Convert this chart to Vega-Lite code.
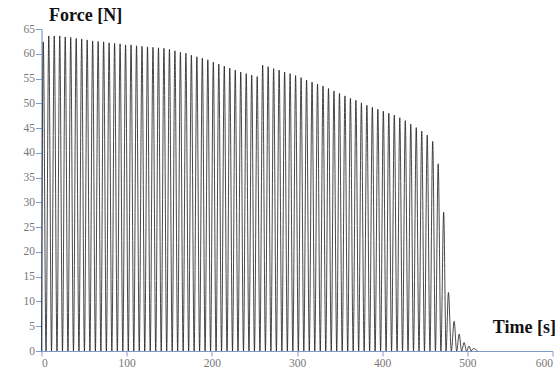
{
  "$schema": "https://vega.github.io/schema/vega-lite/v6.json",
  "width": 511,
  "height": 322,
  "autosize": {"type": "none"},
  "padding": {"left": 41.5, "top": 29, "right": 7.5, "bottom": 20},
  "background": "white",
  "config": {"view": {"stroke": null}},
  "data": {"values": [
    {"t": 0, "f": 0},
    {"t": 2.1, "f": 62.4}, {"t": 5.32, "f": 0},
    {"t": 8.54, "f": 63.6}, {"t": 11.76, "f": 0},
    {"t": 14.98, "f": 63.6}, {"t": 18.2, "f": 0},
    {"t": 21.42, "f": 63.6}, {"t": 24.64, "f": 0},
    {"t": 27.86, "f": 63.4}, {"t": 31.08, "f": 0},
    {"t": 34.3, "f": 63.3}, {"t": 37.52, "f": 0},
    {"t": 40.74, "f": 63.1}, {"t": 43.96, "f": 0},
    {"t": 47.18, "f": 63.0}, {"t": 50.4, "f": 0},
    {"t": 53.62, "f": 62.8}, {"t": 56.84, "f": 0},
    {"t": 60.06, "f": 62.6}, {"t": 63.28, "f": 0},
    {"t": 66.5, "f": 62.5}, {"t": 69.72, "f": 0},
    {"t": 72.94, "f": 62.4}, {"t": 76.16, "f": 0},
    {"t": 79.38, "f": 62.2}, {"t": 82.6, "f": 0},
    {"t": 85.82, "f": 62.1}, {"t": 89.04, "f": 0},
    {"t": 92.26, "f": 62.0}, {"t": 95.48, "f": 0},
    {"t": 98.7, "f": 61.8}, {"t": 101.92, "f": 0},
    {"t": 105.14, "f": 61.8}, {"t": 108.36, "f": 0},
    {"t": 111.58, "f": 61.6}, {"t": 114.8, "f": 0},
    {"t": 118.02, "f": 61.5}, {"t": 121.24, "f": 0},
    {"t": 124.46, "f": 61.4}, {"t": 127.68, "f": 0},
    {"t": 130.9, "f": 61.3}, {"t": 134.12, "f": 0},
    {"t": 137.34, "f": 61.2}, {"t": 140.56, "f": 0},
    {"t": 143.78, "f": 61.1}, {"t": 147.0, "f": 0},
    {"t": 150.22, "f": 60.9}, {"t": 153.44, "f": 0},
    {"t": 156.66, "f": 60.6}, {"t": 159.88, "f": 0},
    {"t": 163.1, "f": 60.3}, {"t": 166.32, "f": 0},
    {"t": 169.54, "f": 60.1}, {"t": 172.76, "f": 0},
    {"t": 175.98, "f": 59.7}, {"t": 179.2, "f": 0},
    {"t": 182.42, "f": 59.4}, {"t": 185.64, "f": 0},
    {"t": 188.86, "f": 59.1}, {"t": 192.08, "f": 0},
    {"t": 195.3, "f": 58.8}, {"t": 198.52, "f": 0},
    {"t": 201.74, "f": 58.3}, {"t": 204.96, "f": 0},
    {"t": 208.18, "f": 57.9}, {"t": 211.4, "f": 0},
    {"t": 214.62, "f": 57.5}, {"t": 217.84, "f": 0},
    {"t": 221.06, "f": 57.1}, {"t": 224.28, "f": 0},
    {"t": 227.5, "f": 56.7}, {"t": 230.72, "f": 0},
    {"t": 233.94, "f": 56.3}, {"t": 237.16, "f": 0},
    {"t": 240.38, "f": 56.0}, {"t": 243.6, "f": 0},
    {"t": 246.82, "f": 55.7}, {"t": 250.04, "f": 0},
    {"t": 253.26, "f": 55.4}, {"t": 256.48, "f": 0},
    {"t": 259.7, "f": 57.7}, {"t": 262.92, "f": 0},
    {"t": 266.14, "f": 57.4}, {"t": 269.36, "f": 0},
    {"t": 272.58, "f": 57.0}, {"t": 275.8, "f": 0},
    {"t": 279.02, "f": 56.7}, {"t": 282.24, "f": 0},
    {"t": 285.46, "f": 56.3}, {"t": 288.68, "f": 0},
    {"t": 291.9, "f": 56.0}, {"t": 295.12, "f": 0},
    {"t": 298.34, "f": 55.6}, {"t": 301.56, "f": 0},
    {"t": 304.78, "f": 55.2}, {"t": 308.0, "f": 0},
    {"t": 311.22, "f": 54.7}, {"t": 314.44, "f": 0},
    {"t": 317.66, "f": 54.3}, {"t": 320.88, "f": 0},
    {"t": 324.1, "f": 53.9}, {"t": 327.32, "f": 0},
    {"t": 330.54, "f": 53.5}, {"t": 333.76, "f": 0},
    {"t": 336.98, "f": 53.0}, {"t": 340.2, "f": 0},
    {"t": 343.42, "f": 52.5}, {"t": 346.64, "f": 0},
    {"t": 349.86, "f": 52.0}, {"t": 353.08, "f": 0},
    {"t": 356.3, "f": 51.5}, {"t": 359.52, "f": 0},
    {"t": 362.74, "f": 51.0}, {"t": 365.96, "f": 0},
    {"t": 369.18, "f": 50.6}, {"t": 372.4, "f": 0},
    {"t": 375.62, "f": 50.1}, {"t": 378.84, "f": 0},
    {"t": 382.06, "f": 49.6}, {"t": 385.28, "f": 0},
    {"t": 388.5, "f": 49.2}, {"t": 391.72, "f": 0},
    {"t": 394.94, "f": 48.8}, {"t": 398.16, "f": 0},
    {"t": 401.38, "f": 48.4}, {"t": 404.6, "f": 0},
    {"t": 407.82, "f": 48.0}, {"t": 411.04, "f": 0},
    {"t": 414.26, "f": 47.6}, {"t": 417.48, "f": 0},
    {"t": 420.7, "f": 47.1}, {"t": 423.92, "f": 0},
    {"t": 427.14, "f": 46.5}, {"t": 430.36, "f": 0},
    {"t": 433.58, "f": 45.8}, {"t": 436.8, "f": 0},
    {"t": 440.02, "f": 45.1}, {"t": 443.24, "f": 0},
    {"t": 446.46, "f": 44.4}, {"t": 449.68, "f": 0},
    {"t": 452.9, "f": 43.6}, {"t": 456.12, "f": 0},
    {"t": 459.34, "f": 42.3}, {"t": 462.56, "f": 0},
    {"t": 465.78, "f": 37.8}, {"t": 469.0, "f": 0},
    {"t": 472.22, "f": 28.0}, {"t": 475.0, "f": 0},
    {"t": 477.8, "f": 11.8}, {"t": 481.2, "f": 0},
    {"t": 484.5, "f": 6.0}, {"t": 487.5, "f": 0},
    {"t": 490.4, "f": 3.4}, {"t": 493.3, "f": 0},
    {"t": 496.2, "f": 1.7}, {"t": 499.1, "f": 0},
    {"t": 502.0, "f": 1.0}, {"t": 504.5, "f": 0},
    {"t": 507.0, "f": 0.5}, {"t": 512.0, "f": 0}
  ]},
  "mark": {"type": "line", "interpolate": "monotone", "color": "#1a1a1a", "strokeWidth": 0.8},
  "encoding": {
    "x": {
      "field": "t", "type": "quantitative",
      "scale": {"domain": [0, 600], "nice": false, "zero": false},
      "axis": {
        "values": [0, 100, 200, 300, 400, 500, 600],
        "grid": false,
        "domainColor": "#7f9bcc", "tickColor": "#7f9bcc", "tickSize": 5, "domainWidth": 1.2,
        "labelFont": "Liberation Serif", "labelFontSize": 11.5, "labelColor": "#777777", "labelPadding": 1,
        "title": "Time [s]", "titleFont": "Liberation Serif", "titleFontSize": 18, "titleFontWeight": "bold", "titleColor": "#111111",
        "titleX": 514, "titleY": -24, "titleAlign": "right", "titleBaseline": "middle"
      }
    },
    "y": {
      "field": "f", "type": "quantitative",
      "scale": {"domain": [0, 65], "nice": false},
      "axis": {
        "values": [0, 5, 10, 15, 20, 25, 30, 35, 40, 45, 50, 55, 60, 65],
        "grid": false,
        "domainColor": "#7f9bcc", "tickColor": "#7f9bcc", "tickSize": 6, "domainWidth": 1.2,
        "labelFont": "Liberation Serif", "labelFontSize": 11.5, "labelColor": "#777777", "labelPadding": 1,
        "title": "Force [N]", "titleFont": "Liberation Serif", "titleFontSize": 18, "titleFontWeight": "bold", "titleColor": "#111111",
        "titleAngle": 0, "titleX": 7, "titleY": -14, "titleAlign": "left", "titleBaseline": "middle"
      }
    }
  }
}
